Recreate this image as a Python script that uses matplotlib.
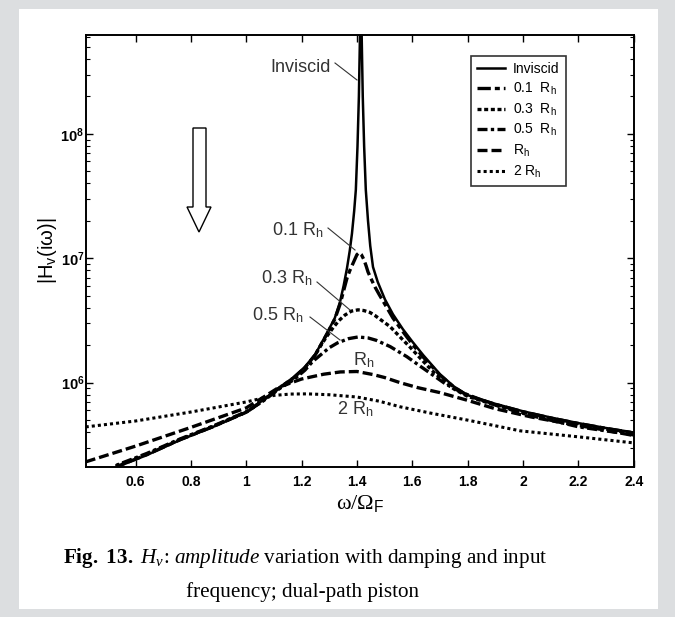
import numpy as np
import matplotlib.pyplot as plt
from matplotlib.patches import Polygon, Rectangle

plt.rcParams['mathtext.fontset'] = 'custom'
plt.rcParams['mathtext.rm'] = 'Liberation Serif'
plt.rcParams['mathtext.it'] = 'Liberation Serif:italic'
plt.rcParams['mathtext.bf'] = 'Liberation Serif:bold'
plt.rcParams['mathtext.sf'] = 'Liberation Sans'
plt.rcParams['font.family'] = 'Liberation Sans'

# ----------------------------
# data (frequency ratio, |Hv|)
# ----------------------------
x_inv = [0.50, 0.533, 0.641, 0.761, 0.880, 1.003, 1.06, 1.122, 1.17, 1.212, 1.25, 1.292, 1.32,
         1.339, 1.352, 1.364, 1.374, 1.382, 1.390, 1.396, 1.402, 1.407, 1.411, 1.414,
         1.417, 1.421, 1.426, 1.432, 1.44, 1.448, 1.458, 1.475, 1.501, 1.53, 1.566, 1.60,
         1.64, 1.70, 1.75, 1.80, 1.90, 2.0, 2.1, 2.2, 2.3, 2.4]
y_inv = [1.70e5, 2.10e5, 2.62e5, 3.46e5, 4.41e5, 5.81e5, 7.24e5, 9.23e5, 1.10e6, 1.34e6, 1.70e6,
         2.51e6, 3.31e6, 4.47e6, 6.03e6, 8.32e6, 1.15e7, 1.58e7, 2.40e7, 3.55e7, 7.94e7, 2.0e8,
         6.3e8, 3.2e9, 6.3e8, 2.0e8, 7.94e7, 3.55e7, 2.0e7, 1.26e7, 8.51e6, 6.46e6, 4.68e6,
         3.55e6, 2.69e6, 2.14e6, 1.66e6, 1.17e6, 9.33e5, 7.94e5, 6.76e5, 5.89e5, 5.25e5,
         4.73e5, 4.32e5, 3.98e5]

x_01 = [0.50, 0.533, 0.641, 0.761, 0.880, 1.003, 1.06, 1.122, 1.17, 1.212, 1.25, 1.292, 1.32,
        1.339, 1.352, 1.364, 1.374, 1.382, 1.392, 1.400, 1.408, 1.416, 1.425, 1.433, 1.44,
        1.45, 1.465, 1.48, 1.501, 1.53, 1.566, 1.60, 1.64, 1.70, 1.75, 1.80, 1.90, 2.0, 2.1,
        2.2, 2.3, 2.4]
y_01 = [1.72e5, 2.12e5, 2.64e5, 3.48e5, 4.43e5, 5.83e5, 7.20e5, 9.15e5, 1.09e6, 1.32e6, 1.68e6,
        2.47e6, 3.24e6, 4.27e6, 5.50e6, 6.92e6, 7.94e6, 8.71e6, 9.77e6, 1.07e7, 1.11e7, 1.07e7,
        9.77e6, 8.71e6, 7.76e6, 6.92e6, 5.89e6, 5.13e6, 4.27e6, 3.31e6, 2.57e6, 2.04e6, 1.60e6,
        1.15e6, 9.23e5, 7.85e5, 6.70e5, 5.84e5, 5.20e5, 4.70e5, 4.29e5, 3.95e5]

x_03 = [0.50, 0.533, 0.641, 0.761, 0.880, 1.003, 1.06, 1.122, 1.17, 1.212, 1.24, 1.267, 1.29,
        1.313, 1.335, 1.357, 1.38, 1.404, 1.425, 1.447, 1.465, 1.483, 1.52, 1.555, 1.59,
        1.628, 1.67, 1.70, 1.75, 1.80, 1.90, 2.0, 2.2, 2.4]
y_03 = [1.75e5, 2.15e5, 2.67e5, 3.50e5, 4.45e5, 5.85e5, 7.15e5, 9.10e5, 1.07e6, 1.30e6, 1.55e6,
        1.95e6, 2.34e6, 2.75e6, 3.16e6, 3.50e6, 3.76e6, 3.85e6, 3.80e6, 3.67e6, 3.47e6, 3.24e6,
        2.82e6, 2.34e6, 1.95e6, 1.58e6, 1.26e6, 1.10e6, 8.91e5, 7.76e5, 6.61e5, 5.75e5,
        4.62e5, 3.89e5]

x_05 = [0.50, 0.533, 0.641, 0.761, 0.880, 1.003, 1.06, 1.122, 1.17, 1.212, 1.24, 1.267, 1.30,
        1.33, 1.37, 1.404, 1.44, 1.47, 1.52, 1.58, 1.63, 1.67, 1.72, 1.78, 1.84, 1.90, 2.02,
        2.2, 2.4]
y_05 = [1.78e5, 2.18e5, 2.70e5, 3.53e5, 4.48e5, 5.88e5, 7.10e5, 9.02e5, 1.05e6, 1.26e6, 1.48e6,
        1.66e6, 1.91e6, 2.09e6, 2.26e6, 2.33e6, 2.29e6, 2.19e6, 1.95e6, 1.62e6, 1.35e6, 1.17e6,
        9.77e5, 8.32e5, 7.41e5, 6.61e5, 5.50e5, 4.42e5, 3.80e5]

x_r1 = [0.42, 0.60, 0.80, 1.0, 1.08, 1.12, 1.20, 1.28, 1.34, 1.40, 1.46, 1.50, 1.556, 1.62,
        1.70, 1.797, 1.90, 2.03, 2.15, 2.28, 2.4]
y_r1 = [2.31e5, 3.09e5, 4.37e5, 6.27e5, 8.10e5, 9.23e5, 1.07e6, 1.17e6, 1.22e6, 1.23e6, 1.16e6,
        1.10e6, 1.00e6, 9.12e5, 8.32e5, 7.24e5, 6.17e5, 5.30e5, 4.73e5, 4.22e5, 3.76e5]

x_r2 = [0.42, 0.60, 0.80, 1.0, 1.10, 1.16, 1.22, 1.30, 1.40, 1.48, 1.556, 1.665, 1.80, 1.99,
        2.2, 2.4]
y_r2 = [4.41e5, 4.92e5, 5.81e5, 7.00e5, 7.90e5, 8.10e5, 8.13e5, 8.00e5, 7.67e5, 7.10e5, 6.40e5,
        5.70e5, 5.00e5, 4.10e5, 3.67e5, 3.28e5]

series = [
    (x_inv, y_inv, "Inviscid", dict(ls="-", lw=1.8)),
    (x_01, y_01, "0.1  R$_\\mathsf{h}$", dict(dashes=(4, 1.2, 1.5, 1.2), lw=2.4)),
    (x_03, y_03, "0.3  R$_\\mathsf{h}$", dict(dashes=(1.2, 0.8), lw=2.4)),
    (x_05, y_05, "0.5  R$_\\mathsf{h}$", dict(dashes=(3, 1, 1, 1), lw=2.4)),
    (x_r1, y_r1, "R$_\\mathsf{h}$", dict(dashes=(3, 1.2), lw=2.4)),
    (x_r2, y_r2, "2 R$_\\mathsf{h}$", dict(dashes=(1, 1), lw=2.2)),
]

W, H = 675, 617
fig = plt.figure(figsize=(W / 100, H / 100), dpi=100, facecolor="#dcdee0")


def fpos(px, py):
    return px / W, 1 - py / H


# white panel behind everything
fig.patches.append(Rectangle(fpos(19, 609), 639 / W, 600 / H, transform=fig.transFigure,
                             facecolor="white", edgecolor="none", zorder=-10))

ax = fig.add_axes([85.7 / W, 1 - 467 / H, (634 - 85.7) / W, (467 - 35.3) / H])
ax.set_facecolor("white")

for xs, ys, lab, st in series:
    ax.plot(xs, ys, color="black", label=lab, **st)

ax.set_yscale("log")
ax.set_xlim(0.42, 2.401)
ax.set_ylim(2.10e5, 6.2e8)

ax.set_xticks([0.6, 0.8, 1, 1.2, 1.4, 1.6, 1.8, 2, 2.2, 2.4])
ax.set_xticklabels(["0.6", "0.8", "1", "1.2", "1.4", "1.6", "1.8", "2", "2.2", "2.4"],
                   fontweight="bold", fontsize=10)
ax.set_yticks([1e6, 1e7, 1e8])
ax.set_yticklabels([r"$\mathdefault{10^{6}}$", r"$\mathdefault{10^{7}}$", r"$\mathdefault{10^{8}}$"],
                   fontweight="bold", fontsize=10.5)
ax.tick_params(which="both", direction="in", top=True, right=True)
ax.tick_params(which="major", length=5, width=1)
ax.tick_params(which="minor", length=3, width=0.8)
ax.tick_params(axis="x", which="minor", bottom=False, top=False)
ax.tick_params(axis="x", pad=6)
ax.tick_params(axis="y", pad=1)
for s in ax.spines.values():
    s.set_linewidth(1.4)

ax.set_xlabel("ω/Ω$_\\mathsf{F}$", fontfamily="Liberation Serif", fontsize=16, labelpad=3)
ax.set_ylabel("|H$_\\mathsf{v}$(iω)|", fontsize=14.5, labelpad=1)

leg = ax.legend(loc="upper left", bbox_to_anchor=((470.7 - 85.7) / 548.3, 1 - (56 - 35.3) / 431.7),
                fontsize=10, frameon=True, fancybox=False, edgecolor="black", handlelength=2.0,
                handletextpad=0.6, labelspacing=0.33, borderpad=0.45, borderaxespad=0)
leg.get_frame().set_linewidth(1.2)

# labels on the curves
gray = "#333333"
notes = [
    ("Inviscid", 331, 67, (335, 63), (357, 80)),
    ("0.1 R$_\\mathsf{h}$", 323, 230, (328, 228), (355, 250)),
    ("0.3 R$_\\mathsf{h}$", 312, 278, (317, 282), (350, 310)),
    ("0.5 R$_\\mathsf{h}$", 303, 315, (310, 317), (340, 340)),
]
for txt, tx, ty, p0, p1 in notes:
    fig.text(*fpos(tx, ty), txt, ha="right", va="center", fontsize=13, color=gray, zorder=6)
    fig.add_artist(plt.Line2D([p0[0] / W, p1[0] / W], [1 - p0[1] / H, 1 - p1[1] / H],
                              transform=fig.transFigure, color=gray, lw=0.8, zorder=6))
fig.text(*fpos(364, 360), "R$_\\mathsf{h}$", ha="center", va="center", fontsize=13, color=gray, zorder=6)
fig.text(*fpos(355, 409), "2 R$_\\mathsf{h}$", ha="center", va="center", fontsize=13, color=gray, zorder=6)

# hollow arrow
arrow_px = [(193, 128), (206, 128), (206, 207), (211, 207), (199, 232), (187, 207), (193, 207)]
fig.patches.append(Polygon([fpos(px, py) for px, py in arrow_px], closed=True, zorder=6,
                           transform=fig.transFigure, facecolor="white", edgecolor="black", lw=1))

# caption
fig.text(*fpos(305, 558), r"$\mathbf{Fig.}$ $\mathbf{13.}$ $H_v$: $\mathit{amplitude}$ variation with damping and input",
         ha="center", va="center", fontfamily="Liberation Serif", fontsize=15.2)
fig.text(*fpos(303, 592), "frequency; dual-path piston",
         ha="center", va="center", fontfamily="Liberation Serif", fontsize=15.2)

fig.savefig("out.png", dpi=100, facecolor=fig.get_facecolor())
